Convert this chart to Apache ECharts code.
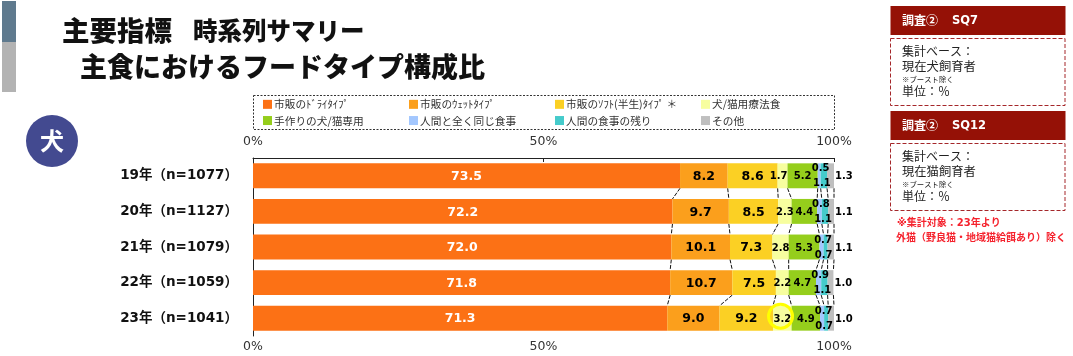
<!DOCTYPE html>
<html>
<head>
<meta charset="utf-8">
<style>
  html, body { margin: 0; padding: 0; background: #fff; }
  #main { width: 1073px; height: 356px; }
</style>
<script src="https://cdn.jsdelivr.net/npm/echarts@6/dist/echarts.min.js"></script>
</head>
<body>
<div id="main"></div>
<script>
const categories = ["19年（n=1077）", "20年（n=1127）", "21年（n=1079）", "22年（n=1059）", "23年（n=1041）"];
const tickStep = 50;

const dry = [73.5, 72.2, 72.0, 71.8, 71.3];
const wet = [8.2, 9.7, 10.1, 10.7, 9.0];
const soft = [8.6, 8.5, 7.3, 7.5, 9.2];
const therapy = [1.7, 2.3, 2.8, 2.2, 3.2];
const handmade = [5.2, 4.4, 5.3, 4.7, 4.9];
const sameFood = [0.5, 0.8, 0.7, 0.9, 0.7];
const leftovers = [1.1, 1.1, 0.7, 1.1, 0.7];
const other = [1.3, 1.1, 1.1, 1.0, 1.0];

const names = ["市販のﾄﾞﾗｲﾀｲﾌﾟ", "市販のｳｪｯﾄﾀｲﾌﾟ", "市販のｿﾌﾄ(半生)ﾀｲﾌﾟ ＊", "犬/猫用療法食",
  "手作りの犬/猫専用", "人間と全く同じ食事", "人間の食事の残り", "その他"];
const values = [dry, wet, soft, therapy, handmade, sameFood, leftovers, other];
const colors = ["#FC7115", "#FB9F1C", "#FBD024", "#F7FE9F", "#95CE1C", "#A3C7FE", "#45CBCB", "#BFBFBF"];

const latin = '"DejaVu Sans", "Noto Sans CJK JP", sans-serif';
const jp = '"Noto Sans CJK JP", sans-serif';
const red = "#951106";

// 累積値（系列線用）
function cumulative(seriesIdx, row) {
  let sum = 0;
  for (let i = 0; i <= seriesIdx; i++) sum += values[i][row];
  return Math.min(sum, 100);
}

function labelFor(i) {
  const base = {
    show: true,
    fontFamily: latin,
    fontWeight: "bold",
    color: "#000",
    fontSize: i < 3 ? 12.5 : 10,
    offset: [0, 1],
    formatter: (p) => p.value.toFixed(1)
  };
  if (i === 0) base.color = "#fff";
  if (i === 5) base.offset = [1.5, -7];
  if (i === 6) base.offset = [-2, 8];
  if (i === 7) { base.position = "right"; base.distance = 1; }
  return base;
}

const barSeries = names.map((name, i) => {
  const s = {
    name: name,
    type: "bar",
    stack: "total",
    barCategoryGap: "30%",
    data: values[i].slice(),
    itemStyle: { color: colors[i] },
    label: labelFor(i)
  };
  if (i === 3) {
    // 19年の1.7だけ少し左にずらす
    s.data[0] = { value: values[i][0], label: { offset: [-4, 1] } };
    // 23年の強調リング
    s.markPoint = {
      silent: true,
      symbol: "circle",
      symbolSize: 24,
      symbolOffset: [0, -2],
      label: { show: false },
      itemStyle: { color: "rgba(0,0,0,0)", borderColor: "#FFFF00", borderWidth: 3 },
      data: [{ coord: [cumulative(2, 4) + therapy[4] / 2 - 0.3, categories[4]] }]
    };
  }
  return s;
});

// 系列線
const linkData = [];
for (let b = 0; b < values.length; b++) {
  for (let r = 0; r < categories.length - 1; r++) linkData.push([b, r]);
}
const linkSeries = {
  type: "custom",
  silent: true,
  clip: false,
  z: 1,
  encode: { x: 0, y: 1 },
  data: linkData,
  renderItem: (params, api) => {
    const b = api.value(0);
    const r = api.value(1);
    const half = api.size([0, 1])[1] * 0.35;
    const a = api.coord([cumulative(b, r), r]);
    const c = api.coord([cumulative(b, r + 1), r + 1]);
    return {
      type: "line",
      shape: { x1: a[0], y1: a[1] + half, x2: c[0], y2: c[1] - half },
      style: { stroke: "#111", lineWidth: 1, lineDash: [4, 1.5] }
    };
  }
};

function txt(x, y, text, fontSize, fontWeight, fill, font) {
  return {
    type: "text", x: x, y: y, z: 10,
    style: { text: text, fontSize: fontSize, fontWeight: fontWeight || "normal", fill: fill || "#222", fontFamily: font || jp, verticalAlign: "middle" }
  };
}
function box(x, y, w, h, fill, stroke, dash) {
  return {
    type: "rect", z: 1,
    shape: { x: x, y: y, width: w, height: h },
    style: { fill: fill || "none", stroke: stroke || "none", lineWidth: stroke ? 1 : 0, lineDash: dash || null }
  };
}
function panel(top, title, base) {
  return [
    box(890.5, top, 175, 29, red),
    txt(902, top + 14, "調査②", 12, "bold", "#fff"),
    txt(952, top + 15, title, 11.5, "bold", "#fff", latin),
    box(890.5, top + 32.5, 174.5, 67, null, "#A5272A", [4, 2]),
    txt(902, top + 45, "集計ベース：", 12),
    txt(902, top + 60, base, 12.3),
    txt(902, top + 73, "※ブースト除く", 7.4),
    txt(902, top + 85, "単位：％", 12)
  ];
}

const legendColumns = [
  { left: 258, items: [names[0], names[4]] },
  { left: 404, items: [names[1], names[5]] },
  { left: 550, items: [names[2], names[6]] },
  { left: 696, items: [names[3], names[7]] }
];

const option = {
  animation: false,
  backgroundColor: "#fff",
  grid: { left: 253, right: 239, top: 158, bottom: 20 },
  legend: legendColumns.map((c) => ({
    left: c.left,
    top: 94,
    orient: "vertical",
    itemWidth: 9,
    itemHeight: 9,
    itemGap: 5.5,
    icon: "rect",
    selectedMode: false,
    data: c.items,
    textStyle: { fontFamily: jp, fontSize: 10.7, color: "#333", padding: [0, 0, 0, -3] }
  })),
  xAxis: [
    {
      type: "value", position: "top", min: 0, max: 100, interval: tickStep,
      splitLine: { show: false },
      axisLine: { show: true, lineStyle: { color: "#222" } },
      axisTick: { show: true, inside: true, length: 4, lineStyle: { color: "#222" } },
      axisLabel: { formatter: "{value}%", margin: 10, color: "#333", fontSize: 12.5, fontFamily: latin }
    },
    {
      type: "value", position: "bottom", min: 0, max: 100, interval: tickStep,
      splitLine: { show: false },
      axisLine: { show: false },
      axisTick: { show: false },
      axisLabel: { formatter: "{value}%", margin: 4, color: "#333", fontSize: 12.5, fontFamily: latin }
    }
  ],
  yAxis: {
    type: "category",
    inverse: true,
    data: categories,
    axisLine: { show: true, lineStyle: { color: "#222" } },
    axisTick: { show: false },
    axisLabel: { margin: 15, padding: [4, 0, 0, 0], color: "#111", fontSize: 13.5, fontWeight: "bold", fontFamily: latin }
  },
  series: barSeries.concat([linkSeries]),
  graphic: [
    box(2, 1, 14, 41, "#5F7A8E"),
    box(2, 42, 14, 50, "#B3B3B3"),
    txt(62, 31, "主要指標", 27.5, 900, "#111"),
    txt(193, 31, "時系列サマリー", 24.5, 900, "#111"),
    txt(80, 67, "主食におけるフードタイプ構成比", 27, 900, "#111"),
    box(253.5, 95.5, 581, 34, null, "#333", [2, 1.5]),
    { type: "circle", z: 1, shape: { cx: 52, cy: 141, r: 26 }, style: { fill: "#434A90" } },
    { type: "text", x: 52, y: 141, z: 10, style: { text: "犬", fontSize: 24, fontWeight: "bold", fill: "#fff", fontFamily: jp, align: "center", verticalAlign: "middle" } },
    ...panel(6, "SQ7", "現在犬飼育者"),
    ...panel(111, "SQ12", "現在猫飼育者"),
    txt(897, 223, "※集計対象：23年より", 10, "bold", "#F5222D", latin),
    txt(896, 237, "外猫（野良猫・地域猫給餌あり）除く", 10, "bold", "#F5222D")
  ]
};

const myChart = echarts.init(document.getElementById("main"));
myChart.setOption(option);
</script>
</body>
</html>
